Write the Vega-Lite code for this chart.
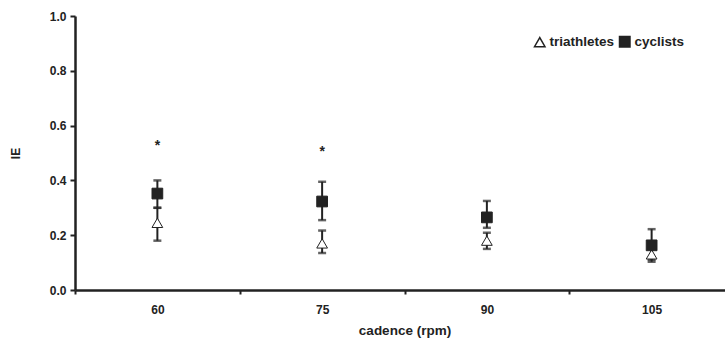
{
  "$schema": "https://vega.github.io/schema/vega-lite/v6.json",
  "width": 650,
  "height": 274,
  "autosize": {"type": "none"},
  "padding": {"left": 75, "top": 16, "right": 0, "bottom": 49},
  "background": "white",
  "config": {
    "view": {"stroke": null},
    "axis": {
      "grid": false,
      "domainColor": "#222",
      "domainWidth": 2.5,
      "tickColor": "#222",
      "tickWidth": 2,
      "labelFont": "Liberation Sans",
      "labelFontWeight": "bold",
      "labelFontSize": 12,
      "labelColor": "#222",
      "titleFont": "Liberation Sans",
      "titleFontWeight": "bold",
      "titleFontSize": 13.5,
      "titleColor": "#222"
    }
  },
  "data": {
    "values": [
      {"cadence": 60, "group": "triathletes", "mean": 0.245, "lo": 0.18, "hi": 0.30},
      {"cadence": 60, "group": "cyclists", "mean": 0.352, "lo": 0.30, "hi": 0.40},
      {"cadence": 75, "group": "triathletes", "mean": 0.17, "lo": 0.135, "hi": 0.217},
      {"cadence": 75, "group": "cyclists", "mean": 0.323, "lo": 0.255, "hi": 0.395},
      {"cadence": 90, "group": "triathletes", "mean": 0.18, "lo": 0.15, "hi": 0.209},
      {"cadence": 90, "group": "cyclists", "mean": 0.265, "lo": 0.227, "hi": 0.325},
      {"cadence": 105, "group": "triathletes", "mean": 0.13, "lo": 0.103, "hi": 0.155},
      {"cadence": 105, "group": "cyclists", "mean": 0.163, "lo": 0.11, "hi": 0.222}
    ]
  },
  "encoding": {
    "x": {
      "field": "cadence",
      "type": "ordinal",
      "scale": {"type": "band", "paddingInner": 0, "paddingOuter": 0, "range": [0, 659]},
      "axis": {"title": "cadence (rpm)", "labelAngle": 0, "tickBand": "extent", "tickSize": 4, "labelPadding": 10, "titlePadding": 8}
    }
  },
  "layer": [
    {
      "mark": {"type": "rule", "color": "#222", "strokeWidth": 2},
      "encoding": {
        "y": {
          "field": "lo", "type": "quantitative",
          "scale": {"domain": [0, 1], "nice": false},
          "axis": {"title": "IE", "titleFontSize": 12, "values": [0, 0.2, 0.4, 0.6, 0.8, 1.0], "format": ".1f", "tickSize": 5, "labelPadding": 4, "titlePadding": 27}
        },
        "y2": {"field": "hi"}
      }
    },
    {
      "mark": {"type": "tick", "color": "#222", "thickness": 2.5, "size": 8},
      "encoding": {"y": {"field": "lo", "type": "quantitative"}}
    },
    {
      "mark": {"type": "tick", "color": "#222", "thickness": 2.5, "size": 8},
      "encoding": {"y": {"field": "hi", "type": "quantitative"}}
    },
    {
      "mark": {"type": "point", "filled": true, "stroke": "#222", "strokeWidth": 1, "size": 115, "opacity": 1},
      "encoding": {
        "y": {"field": "mean", "type": "quantitative"},
        "shape": {
          "field": "group", "type": "nominal",
          "scale": {"domain": ["triathletes", "cyclists"], "range": ["triangle-up", "square"]},
          "legend": {
            "title": null, "orient": "none", "direction": "horizontal",
            "legendX": 458, "legendY": 19,
            "labelFont": "Liberation Sans", "labelFontWeight": "bold", "labelFontSize": 13.5, "labelColor": "#222",
            "symbolSize": 110, "columnPadding": 1, "labelOffset": 3
          }
        },
        "fill": {
          "field": "group", "type": "nominal",
          "scale": {"domain": ["triathletes", "cyclists"], "range": ["white", "#222"]},
          "legend": {
            "title": null, "orient": "none", "direction": "horizontal",
            "legendX": 458, "legendY": 19,
            "labelFont": "Liberation Sans", "labelFontWeight": "bold", "labelFontSize": 13.5, "labelColor": "#222",
            "symbolSize": 110, "columnPadding": 1, "labelOffset": 3
          }
        }
      }
    },
    {
      "data": {"values": [{"cadence": 60, "y": 0.536, "t": "*"}, {"cadence": 75, "y": 0.515, "t": "*"}]},
      "mark": {"type": "text", "font": "Liberation Sans", "fontWeight": "bold", "fontSize": 14, "color": "#222", "baseline": "middle", "dy": 3},
      "encoding": {
        "y": {"field": "y", "type": "quantitative"},
        "text": {"field": "t"}
      }
    }
  ]
}
